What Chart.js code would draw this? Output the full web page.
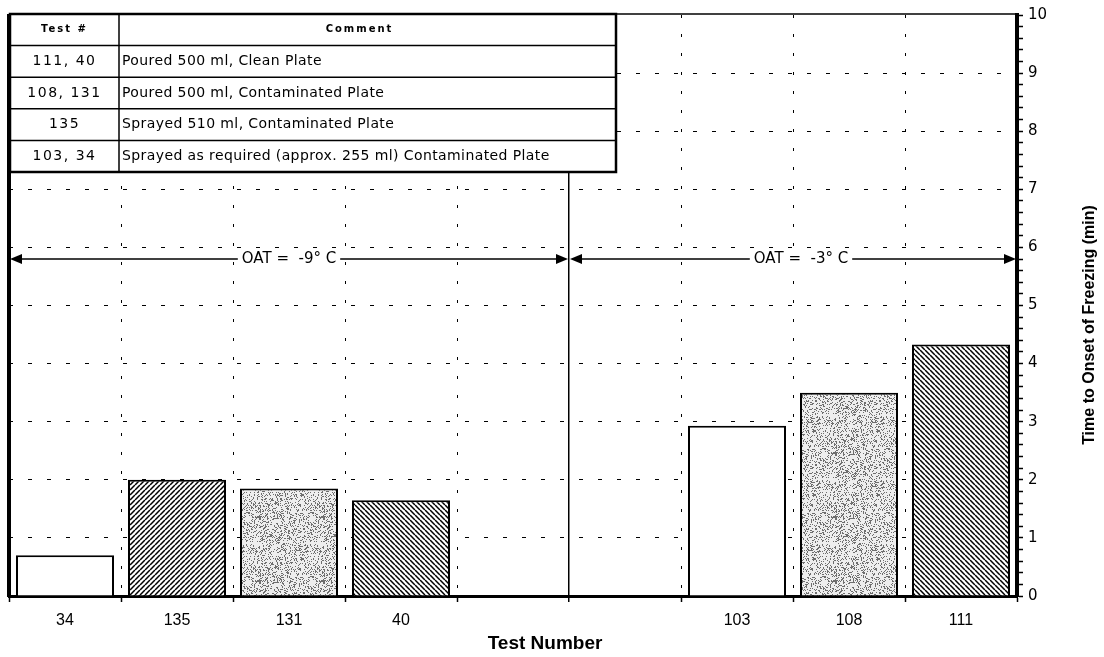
<!DOCTYPE html>
<html>
<head>
<meta charset="utf-8">
<script src="https://cdn.jsdelivr.net/npm/chart.js@4"></script>
<style>
body{margin:0;background:#fff}
#wrap{width:1104px;height:657px;position:relative}
</style>
</head>
<body>
<div id="wrap"><canvas id="myChart"></canvas></div>
<script>
// data
const categories = ['34', '135', '131', '40', '', '', '103', '108', '111'];
const freezeTimes = [0.7, 2.0, 1.85, 1.65, null, null, 2.93, 3.5, 4.33];
const oatLabels = ['OAT =  -9\u00b0 C', 'OAT =  -3\u00b0 C'];
const oatLevel = 5.8;
const tableHead = ['Test #', 'Comment'];
const tableTests = ['111, 40', '108, 131', '135', '103, 34'];
const tableComments = [
  'Poured 500 ml, Clean Plate',
  'Poured 500 ml, Contaminated Plate',
  'Sprayed 510 ml, Contaminated Plate',
  'Sprayed as required (approx. 255 ml) Contaminated Plate'
];
const xTitle = 'Test Number';
const yTitle = 'Time to Onset of Freezing (min)';

// fill style for each table row
const rowFills = ['backslash', 'stipple', 'slash', 'open'];

function makePattern(kind) {
  const c = document.createElement('canvas');
  const g = c.getContext('2d');
  if (kind == 'stipple') {
    c.width = 64; c.height = 64;
    g.fillStyle = '#eeeeee';
    g.fillRect(0, 0, 64, 64);
    g.fillStyle = '#6e6e6e';
    for (let y = 0; y < 64; y++) {
      for (let x = 0; x < 64; x++) {
        let h = (x * 374761393 + y * 668265263) | 0;
        h = Math.imul(h ^ (h >>> 13), 1274126177);
        h = (h ^ (h >>> 16)) >>> 0;
        if (h / 4294967296 < 0.26) g.fillRect(x, y, 1, 1);
      }
    }
    return g.createPattern(c, 'repeat');
  }
  if (kind == 'open') return '#ffffff';
  const s = 5;
  c.width = s; c.height = s;
  g.fillStyle = '#fff';
  g.fillRect(0, 0, s, s);
  g.strokeStyle = '#000';
  g.lineWidth = 1.5;
  g.beginPath();
  for (let k = -1; k <= 1; k++) {
    if (kind == 'slash') { g.moveTo(k * s, s); g.lineTo(k * s + s, 0); }
    else { g.moveTo(k * s, 0); g.lineTo(k * s + s, s); }
  }
  g.stroke();
  return g.createPattern(c, 'repeat');
}

const fills = categories.map(cat => {
  const r = tableTests.findIndex(t => t.split(',').map(v => v.trim()).includes(cat));
  return r < 0 ? '#fff' : makePattern(rowFills[r]);
});

const isWhole = v => Math.abs(v - Math.round(v)) < 1e-6;
const clear = 'rgba(0,0,0,0)';

function arrowHead(ctx, x, y, dir) {
  ctx.beginPath();
  ctx.moveTo(x, y);
  ctx.lineTo(x - dir * 12, y - 5);
  ctx.lineTo(x - dir * 12, y + 5);
  ctx.closePath();
  ctx.fill();
}

function drawSpan(ctx, x1, x2, y, label, shift) {
  ctx.strokeStyle = '#000';
  ctx.fillStyle = '#000';
  ctx.lineWidth = 1.5;
  ctx.beginPath();
  ctx.moveTo(x1 + 4, y);
  ctx.lineTo(x2 - 4, y);
  ctx.stroke();
  arrowHead(ctx, x1 + 1, y, -1);
  arrowHead(ctx, x2 - 1, y, 1);
  ctx.font = '15px "DejaVu Sans"';
  const w = ctx.measureText(label).width;
  const mid = (x1 + x2) / 2 + shift;
  ctx.fillStyle = '#fff';
  ctx.fillRect(mid - w / 2 - 4, y - 9, w + 8, 18);
  ctx.fillStyle = '#000';
  ctx.textAlign = 'center';
  ctx.textBaseline = 'middle';
  ctx.fillText(label, mid, y);
}

const extras = {
  id: 'extras',
  afterDraw(chart) {
    const ctx = chart.ctx;
    const a = chart.chartArea;
    const xs = chart.scales.x, ys = chart.scales.y;
    ctx.save();
    // left and top frame
    ctx.strokeStyle = '#000';
    ctx.lineWidth = 4;
    ctx.beginPath(); ctx.moveTo(a.left, a.top - 1); ctx.lineTo(a.left, a.bottom + 1); ctx.stroke();
    ctx.lineWidth = 1.5;
    ctx.beginPath(); ctx.moveTo(a.left, a.top - 1); ctx.lineTo(a.right, a.top - 1); ctx.stroke();

    // OAT spans
    const divider = (xs.getPixelForValue(4) + xs.getPixelForValue(5)) / 2;
    const yOat = ys.getPixelForValue(oatLevel);
    drawSpan(ctx, a.left, divider, yOat, oatLabels[0], 0);
    drawSpan(ctx, divider, a.right, yOat, oatLabels[1], 8);

    // table
    const tl = a.left + 1, tt = a.top - 1, tw = 606, rh = 31.6;
    const c1 = 109;
    const nRows = tableTests.length + 1;
    ctx.fillStyle = '#fff';
    ctx.fillRect(tl, tt, tw, rh * nRows);
    ctx.strokeStyle = '#000';
    ctx.lineWidth = 1.5;
    for (let r = 1; r < nRows; r++) {
      ctx.beginPath(); ctx.moveTo(tl, tt + r * rh); ctx.lineTo(tl + tw, tt + r * rh); ctx.stroke();
    }
    ctx.beginPath(); ctx.moveTo(tl + c1, tt); ctx.lineTo(tl + c1, tt + rh * nRows); ctx.stroke();
    ctx.lineWidth = 2.5;
    ctx.strokeRect(tl, tt, tw, rh * nRows);

    ctx.fillStyle = '#000';
    ctx.textBaseline = 'middle';
    ctx.textAlign = 'center';
    ctx.font = 'bold 10px "DejaVu Sans"';
    ctx.letterSpacing = '2px';
    ctx.fillText(tableHead[0], tl + c1 / 2, tt + rh / 2);
    ctx.fillText(tableHead[1], tl + c1 + (tw - c1) / 2 - 8, tt + rh / 2);
    ctx.font = '14px "DejaVu Sans"';
    ctx.letterSpacing = '1.5px';
    tableTests.forEach((t, i) => ctx.fillText(t, tl + c1 / 2, tt + (i + 1.5) * rh));
    ctx.textAlign = 'left';
    ctx.letterSpacing = '0.4px';
    tableComments.forEach((t, i) => ctx.fillText(t, tl + c1 + 3, tt + (i + 1.5) * rh));
    ctx.letterSpacing = '0px';

    // axis titles
    ctx.font = 'bold 19px "Liberation Sans"';
    ctx.textAlign = 'center';
    ctx.fillText(xTitle, 545, 644);
    ctx.save();
    ctx.translate(1090, 325);
    ctx.rotate(-Math.PI / 2);
    ctx.font = 'bold 16px "Liberation Sans"';
    ctx.fillText(yTitle, 0, 0);
    ctx.restore();
    ctx.restore();
  }
};

new Chart(document.getElementById('myChart'), {
  type: 'bar',
  data: {
    labels: categories,
    datasets: [{
      data: freezeTimes,
      backgroundColor: fills,
      borderColor: '#000',
      borderWidth: 2,
      barPercentage: 0.875,
      categoryPercentage: 1
    }]
  },
  options: {
    responsive: true,
    maintainAspectRatio: false,
    animation: false,
    layout: { padding: { left: 9, top: 15, right: 0, bottom: 0 } },
    plugins: { legend: { display: false }, tooltip: { enabled: false } },
    scales: {
      x: {
        offset: true,
        grid: {
          offset: true,
          color: c => (c.index === undefined || c.index === 0) ? clear : '#000',
          lineWidth: c => c.index === 5 ? 1.5 : 1,
          tickColor: '#000',
          tickWidth: 1.5,
          tickLength: 6,
          tickBorderDash: []
        },
        border: { color: '#000', width: 3, dash: c => c.index === 5 ? [] : [3, 16] },
        ticks: {
          color: '#000',
          font: { family: 'Liberation Sans', size: 16 },
          padding: 9,
          autoSkip: false,
          maxRotation: 0
        },
        afterFit: s => { s.height = 61; }
      },
      y: {
        position: 'right',
        min: 0,
        max: 10,
        grid: {
          color: c => (isWhole(c.tick.value) && c.tick.value > 0 && c.tick.value < 10) ? '#000' : clear,
          lineWidth: 1,
          tickColor: '#000',
          tickWidth: 1.5,
          tickLength: 6,
          tickBorderDash: []
        },
        border: { color: '#000', width: 4, dash: [4, 15] },
        ticks: {
          stepSize: 0.2,
          autoSkip: false,
          color: '#000',
          padding: 5,
          font: { family: 'DejaVu Sans', size: 15 },
          callback: v => isWhole(v) ? String(Math.round(v)) : ''
        },
        afterFit: s => { s.width = 87; }
      }
    }
  },
  plugins: [extras]
});
</script>
</body>
</html>
